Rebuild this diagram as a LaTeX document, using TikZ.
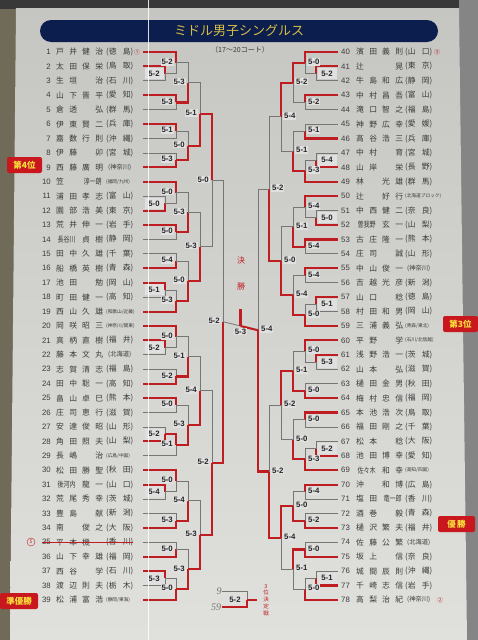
\documentclass[tikz,border=0pt]{standalone}
\usepackage{fontspec}
\usepackage{graphicx}
\setmainfont{Noto Sans CJK JP}
\newfontfamily\scf{Liberation Sans}
\newfontfamily\handf{Liberation Serif}
\usetikzlibrary{calc,positioning}
\definecolor{cRed}{RGB}{190,30,34}
\definecolor{cGrey}{RGB}{118,118,116}
\definecolor{cNavy}{RGB}{12,30,78}
\definecolor{cGold}{RGB}{214,190,70}
\definecolor{cPaper}{RGB}{224,224,220}
\definecolor{cInk}{RGB}{58,58,58}
\definecolor{cMargin}{RGB}{112,106,88}
\definecolor{cBadge}{RGB}{200,24,30}
\definecolor{cBadgeTxt}{RGB}{250,225,60}
\tikzset{
	win/.style ={cRed, line width=2.1pt},
	lose/.style={cGrey, line width=0.8pt},
	sc/.style  ={fill=black!12, inner sep=1pt, text=black!85, font=\scf\bfseries\fontsize{7.8}{9}\selectfont},
	labl/.style={sc, anchor=east, xshift=-2pt, yshift=1pt},
	labr/.style={sc, anchor=west, xshift=2pt, yshift=1pt},
	bxl/.style ={sc, minimum width=19pt, minimum height=11pt, xshift=-11pt},
	bxr/.style ={sc, minimum width=19pt, minimum height=11pt, xshift=11pt},
	numl/.style={anchor=east, inner sep=0pt, text=cInk, font=\scf\fontsize{7.8}{8}\selectfont},
	numr/.style={numl, anchor=west},
	nm/.style  ={anchor=west, inner sep=0pt, text=cInk, font=\fontsize{7.8}{8}\selectfont},
	badge/.style={fill=cBadge, text=cBadgeTxt, rounded corners=2pt, inner sep=1pt, minimum height=16pt, font=\bfseries\fontsize{8.5}{9}\selectfont},
	seed/.style={inner sep=0pt, text=cRed, font=\fontsize{6}{6}\selectfont},
}
% prefecture: two characters, three characters, long
\newcommand\pfa[2]{\makebox[27pt][s]{(#1\hfill #2)}}
\newcommand\pfb[1]{\makebox[27pt][c]{\fontsize{6.3}{7}\selectfont(#1)}}
\newcommand\pfc[1]{\makebox[27pt][l]{\fontsize{4.7}{5}\selectfont(#1)}}
\newcommand\cmp[1]{\hfill\scalebox{0.78}[1]{#1}\hfill}
% players: number, family, given, prefecture
\newcommand\plyL[4]{%
	\pgfmathsetmacro\yy{52+(#1-1)*14.42}
	\node[numl] (n#1) at (51,\yy) {#1};
	\node[nm] (m#1) at (56,\yy) {\makebox[21pt][s]{#2}\hspace{5pt}\makebox[21pt][s]{#3}};
	\node[nm] (f#1) at (106,\yy) {#4};
	\coordinate (p#1) at (143,\yy);}
\newcommand\plyR[4]{%
	\pgfmathsetmacro\yy{52+(#1-40)*14.42}
	\node[numr] (n#1) at (341,\yy) {#1};
	\node[nm] (m#1) at (356,\yy) {\makebox[21pt][s]{#2}\hspace{5pt}\makebox[21pt][s]{#3}};
	\node[nm] (f#1) at (405,\yy) {#4};
	\coordinate (p#1) at (338,\yy);}
% match: name, upper, lower, column x, winner (a/b), score, label style
\newcommand\bout[7]{%
	\coordinate (#1m) at ($(#2)!.5!(#3)$);
	\coordinate (#1) at (#1m -| #4,0);
	\if#5a
		\draw[lose] (#3) -| (#1); \draw[win] (#2) -| (#1);
	\else
		\draw[lose] (#2) -| (#1); \draw[win] (#3) -| (#1);
	\fi
	\node[#7] (#1s) at (#1) {#6};}

\begin{document}
\begin{tikzpicture}[x=1pt, y=-1pt]
	\useasboundingbox (0,0) rectangle (478,640);
	% photo and poster
	\fill[cMargin] (0,0) rectangle (478,640);
	\fill[black!78] (0,0) rectangle (478,9);
	\fill[black!48] (459,0) rectangle (478,640);
	\shade[top color=cPaper!88!black, bottom color=cPaper] (16,8) -- (459,8) -- (467,640) -- (10,640) -- cycle;
	\node[fill=cNavy, rounded corners=11pt, minimum width=398pt, minimum height=22pt, text=cGold, font=\fontsize{13}{14}\selectfont] (ttl) at (239,31) {ミドル男子シングルス};
	\node[text=cInk, font=\fontsize{7}{8}\selectfont] (sub) at (240,50) {（17〜20コート）};

	% left players
	\plyL{1}{戸\hfill 井}{健\hfill 治}{\pfa{徳}{島}}
	\plyL{2}{太\hfill 田}{保\hfill 栄}{\pfa{鳥}{取}}
	\plyL{3}{生\hfill 垣}{\hfill 治}{\pfa{石}{川}}
	\plyL{4}{山\hfill 下}{晋\hfill 平}{\pfa{愛}{知}}
	\plyL{5}{倉\hfill 透}{\hfill 弘}{\pfa{群}{馬}}
	\plyL{6}{伊\hfill 東}{賢\hfill 二}{\pfa{兵}{庫}}
	\plyL{7}{嘉\hfill 数}{行\hfill 則}{\pfa{沖}{縄}}
	\plyL{8}{伊\hfill 藤}{\hfill 卯}{\pfa{宮}{城}}
	\plyL{9}{西\hfill 藤}{廣\hfill 明}{\pfb{神奈川}}
	\plyL{10}{笠\hfill}{\cmp{淳一朗}}{\pfc{福岡/九州}}
	\plyL{11}{浦\hfill 田}{孝\hfill 志}{\pfa{富}{山}}
	\plyL{12}{園\hfill 部}{浩\hfill 美}{\pfa{東}{京}}
	\plyL{13}{荒\hfill 井}{伸\hfill 一}{\pfa{岩}{手}}
	\plyL{14}{\cmp{長谷川}}{貞\hfill 樹}{\pfa{静}{岡}}
	\plyL{15}{田\hfill 中}{久\hfill 雄}{\pfa{千}{葉}}
	\plyL{16}{船\hfill 橋}{英\hfill 樹}{\pfa{青}{森}}
	\plyL{17}{池\hfill 田}{\hfill 勉}{\pfa{岡}{山}}
	\plyL{18}{町\hfill 田}{健\hfill 一}{\pfa{高}{知}}
	\plyL{19}{西\hfill 山}{久\hfill 雄}{\pfc{和歌山/近畿}}
	\plyL{20}{岡\hfill 咲}{昭\hfill 三}{\pfc{神奈川/関東}}
	\plyL{21}{真\hfill 柄}{直\hfill 樹}{\pfa{福}{井}}
	\plyL{22}{藤\hfill 本}{文\hfill 丸}{\pfb{北海道}}
	\plyL{23}{志\hfill 賀}{清\hfill 志}{\pfa{福}{島}}
	\plyL{24}{田\hfill 中}{聡\hfill 一}{\pfa{高}{知}}
	\plyL{25}{畠\hfill 山}{卓\hfill 巳}{\pfa{熊}{本}}
	\plyL{26}{庄\hfill 司}{恵\hfill 行}{\pfa{滋}{賀}}
	\plyL{27}{安\hfill 達}{俊\hfill 昭}{\pfa{山}{形}}
	\plyL{28}{角\hfill 田}{照\hfill 夫}{\pfa{山}{梨}}
	\plyL{29}{長\hfill 嶋}{\hfill 治}{\pfc{広島/中国}}
	\plyL{30}{松\hfill 田}{勝\hfill 聖}{\pfa{秋}{田}}
	\plyL{31}{\cmp{後河内}}{龍\hfill 一}{\pfa{山}{口}}
	\plyL{32}{荒\hfill 尾}{秀\hfill 幸}{\pfa{茨}{城}}
	\plyL{33}{豊\hfill 島}{\hfill 献}{\pfa{新}{潟}}
	\plyL{34}{南\hfill}{俊\hfill 之}{\pfa{大}{阪}}
	\plyL{35}{平\hfill 本}{機\hfill}{\pfa{香}{川}}
	\plyL{36}{山\hfill 下}{幸\hfill 雄}{\pfa{福}{岡}}
	\plyL{37}{西\hfill 谷}{\hfill 学}{\pfa{石}{川}}
	\plyL{38}{渡\hfill 辺}{則\hfill 夫}{\pfa{栃}{木}}
	\plyL{39}{松\hfill 浦}{富\hfill 浩}{\pfc{静岡/東海}}

	% right players
	\plyR{40}{濱\hfill 田}{義\hfill 則}{\pfa{山}{口}}
	\plyR{41}{辻\hfill}{\hfill 晃}{\pfa{東}{京}}
	\plyR{42}{牛\hfill 島}{和\hfill 広}{\pfa{静}{岡}}
	\plyR{43}{中\hfill 村}{昌\hfill 吾}{\pfa{富}{山}}
	\plyR{44}{滝\hfill 口}{智\hfill 之}{\pfa{福}{島}}
	\plyR{45}{神\hfill 野}{広\hfill 幸}{\pfa{愛}{媛}}
	\plyR{46}{高\hfill 谷}{浩\hfill 三}{\pfa{兵}{庫}}
	\plyR{47}{中\hfill 村}{\hfill 育}{\pfa{宮}{城}}
	\plyR{48}{山\hfill 岸}{\hfill 栄}{\pfa{長}{野}}
	\plyR{49}{林\hfill}{光\hfill 雄}{\pfa{群}{馬}}
	\plyR{50}{辻\hfill}{好\hfill 行}{\pfc{北海道ブロック}}
	\plyR{51}{中\hfill 西}{健\hfill 二}{\pfa{奈}{良}}
	\plyR{52}{\cmp{曽我野}}{玄\hfill 一}{\pfa{山}{梨}}
	\plyR{53}{古\hfill 庄}{隆\hfill 一}{\pfa{熊}{本}}
	\plyR{54}{庄\hfill 司}{\hfill 誠}{\pfa{山}{形}}
	\plyR{55}{中\hfill 山}{俊\hfill 一}{\pfb{神奈川}}
	\plyR{56}{吉\hfill 越}{光\hfill 彦}{\pfa{新}{潟}}
	\plyR{57}{山\hfill 口}{\hfill 稔}{\pfa{徳}{島}}
	\plyR{58}{村\hfill 田}{和\hfill 男}{\pfa{岡}{山}}
	\plyR{59}{三\hfill 浦}{義\hfill 弘}{\pfc{青森/東北}}
	\plyR{60}{平\hfill 野}{\hfill 学}{\pfc{石川/北信越}}
	\plyR{61}{浅\hfill 野}{浩\hfill 一}{\pfa{茨}{城}}
	\plyR{62}{山\hfill 本}{\hfill 弘}{\pfa{滋}{賀}}
	\plyR{63}{樋\hfill 田}{金\hfill 男}{\pfa{秋}{田}}
	\plyR{64}{梅\hfill 村}{忠\hfill 信}{\pfa{福}{岡}}
	\plyR{65}{本\hfill 池}{浩\hfill 次}{\pfa{鳥}{取}}
	\plyR{66}{福\hfill 田}{剛\hfill 之}{\pfa{千}{葉}}
	\plyR{67}{松\hfill 本}{\hfill 稔}{\pfa{大}{阪}}
	\plyR{68}{池\hfill 田}{博\hfill 幸}{\pfa{愛}{知}}
	\plyR{69}{\cmp{佐々木}}{和\hfill 幸}{\pfc{高知/四国}}
	\plyR{70}{沖\hfill}{和\hfill 博}{\pfa{広}{島}}
	\plyR{71}{塩\hfill 田}{\cmp{竜一郎}}{\pfa{香}{川}}
	\plyR{72}{酒\hfill 巻}{\hfill 毅}{\pfa{青}{森}}
	\plyR{73}{樋\hfill 沢}{繁\hfill 夫}{\pfa{福}{井}}
	\plyR{74}{佐\hfill 藤}{公\hfill 繁}{\pfb{北海道}}
	\plyR{75}{坂\hfill 上}{\hfill 信}{\pfa{奈}{良}}
	\plyR{76}{城\hfill 間}{辰\hfill 則}{\pfa{沖}{縄}}
	\plyR{77}{千\hfill 崎}{志\hfill 信}{\pfa{岩}{手}}
	\plyR{78}{高\hfill 梨}{治\hfill 紀}{\pfb{神奈川}}

	% seeds, withdrawal
	\node[seed] (s1) at (137,52) {①};
	\node[seed] (s40) at (437,52) {③};
	\node[seed] (s78) at (440,600) {②};
	\node[draw=cRed, circle, inner sep=0.5pt, minimum size=8pt, text=cRed, font=\fontsize{5}{5}\selectfont] (s35) at (31,542) {5};
	\draw[cRed, line width=0.7pt] (n35.west) -- (f35.east);

	% left bracket
	\bout{P2}{p2}{p3}{165}{a}{5-2}{bxl}
	\bout{P11}{p11}{p12}{165}{b}{5-0}{bxl}
	\bout{P17}{p17}{p18}{165}{a}{5-1}{bxl}
	\bout{P21}{p21}{p22}{165}{a}{5-2}{bxl}
	\bout{P27}{p27}{p28}{165}{b}{5-2}{bxl}
	\bout{P31}{p31}{p32}{165}{a}{5-4}{bxl}
	\bout{P37}{p37}{p38}{165}{a}{5-3}{bxl}
	\bout{A1}{p1}{P2}{176}{a}{5-2}{labl}
	\bout{A2}{p4}{p5}{176}{a}{5-3}{labl}
	\bout{A3}{p6}{p7}{176}{a}{5-1}{labl}
	\bout{A4}{p8}{p9}{176}{b}{5-3}{labl}
	\bout{A5}{p10}{P11}{176}{a}{5-0}{labl}
	\bout{A6}{p13}{p14}{176}{a}{5-0}{labl}
	\bout{A7}{p15}{p16}{176}{b}{5-4}{labl}
	\bout{A8}{P17}{p19}{176}{b}{5-3}{labl}
	\bout{A9}{p20}{P21}{176}{a}{5-0}{labl}
	\bout{A10}{p23}{p24}{176}{b}{5-2}{labl}
	\bout{A11}{p25}{p26}{176}{a}{5-0}{labl}
	\bout{A12}{P27}{p29}{176}{a}{5-1}{labl}
	\bout{A13}{p30}{P31}{176}{a}{5-0}{labl}
	\bout{A14}{p33}{p34}{176}{b}{5-3}{labl}
	\bout{A15}{p35}{p36}{176}{b}{5-0}{labl}
	\bout{A16}{P37}{p39}{176}{b}{5-0}{labl}
	\bout{B1}{A1}{A2}{188}{b}{5-3}{labl}
	\bout{B2}{A3}{A4}{188}{b}{5-0}{labl}
	\bout{B3}{A5}{A6}{188}{b}{5-3}{labl}
	\bout{B4}{A7}{A8}{188}{b}{5-0}{labl}
	\bout{B5}{A9}{A10}{188}{b}{5-1}{labl}
	\bout{B6}{A11}{A12}{188}{b}{5-3}{labl}
	\bout{B7}{A13}{A14}{188}{b}{5-4}{labl}
	\bout{B8}{A15}{A16}{188}{b}{5-3}{labl}
	\bout{C1}{B1}{B2}{200}{b}{5-1}{labl}
	\bout{C2}{B3}{B4}{200}{b}{5-3}{labl}
	\bout{C3}{B5}{B6}{200}{b}{5-4}{labl}
	\bout{C4}{B7}{B8}{200}{b}{5-3}{labl}
	\bout{D1}{C1}{C2}{212}{a}{5-0}{labl}
	\bout{D2}{C3}{C4}{212}{b}{5-2}{labl}
	\bout{SL}{D1}{D2}{223}{b}{5-2}{labl}

	% right bracket
	\bout{Q41}{p41}{p42}{316}{a}{5-2}{bxr}
	\bout{Q47}{p47}{p48}{316}{b}{5-4}{bxr}
	\bout{Q51}{p51}{p52}{316}{b}{5-0}{bxr}
	\bout{Q57}{p57}{p58}{316}{a}{5-1}{bxr}
	\bout{Q61}{p61}{p62}{316}{a}{5-3}{bxr}
	\bout{Q67}{p67}{p68}{316}{b}{5-2}{bxr}
	\bout{Q76}{p76}{p77}{316}{b}{5-1}{bxr}
	\bout{E1}{p40}{Q41}{305}{a}{5-0}{labr}
	\bout{E2}{p43}{p44}{305}{a}{5-2}{labr}
	\bout{E3}{p45}{p46}{305}{b}{5-1}{labr}
	\bout{E4}{Q47}{p49}{305}{b}{5-3}{labr}
	\bout{E5}{p50}{Q51}{305}{a}{5-4}{labr}
	\bout{E6}{p53}{p54}{305}{a}{5-4}{labr}
	\bout{E7}{p55}{p56}{305}{a}{5-4}{labr}
	\bout{E8}{Q57}{p59}{305}{b}{5-0}{labr}
	\bout{E9}{p60}{Q61}{305}{a}{5-0}{labr}
	\bout{E10}{p63}{p64}{305}{b}{5-0}{labr}
	\bout{E11}{p65}{p66}{305}{a}{5-0}{labr}
	\bout{E12}{Q67}{p69}{305}{b}{5-3}{labr}
	\bout{E13}{p70}{p71}{305}{a}{5-4}{labr}
	\bout{E14}{p72}{p73}{305}{b}{5-2}{labr}
	\bout{E15}{p74}{p75}{305}{b}{5-0}{labr}
	\bout{E16}{Q76}{p78}{305}{b}{5-0}{labr}
	\bout{F1}{E1}{E2}{293}{a}{5-2}{labr}
	\bout{F2}{E3}{E4}{293}{b}{5-1}{labr}
	\bout{F3}{E5}{E6}{293}{b}{5-1}{labr}
	\bout{F4}{E7}{E8}{293}{b}{5-4}{labr}
	\bout{F5}{E9}{E10}{293}{b}{5-1}{labr}
	\bout{F6}{E11}{E12}{293}{b}{5-0}{labr}
	\bout{F7}{E13}{E14}{293}{b}{5-0}{labr}
	\bout{F8}{E15}{E16}{293}{a}{5-1}{labr}
	\bout{G1}{F1}{F2}{281}{a}{5-4}{labr}
	\bout{G2}{F3}{F4}{281}{b}{5-0}{labr}
	\bout{G3}{F5}{F6}{281}{a}{5-2}{labr}
	\bout{G4}{F7}{F8}{281}{a}{5-4}{labr}
	\bout{H1}{G1}{G2}{269}{b}{5-2}{labr}
	\bout{H2}{G3}{G4}{269}{b}{5-2}{labr}
	\bout{SR}{H1}{H2}{258}{b}{5-4}{labr}

	% final
	\coordinate (fin) at ($(SL)!.5!(SR)$);
	\coordinate (champ) at ([yshift=17pt]fin);
	\draw[lose] (SL) -- (fin);
	\draw[win] (fin) -- (SR);
	\draw[win] (fin) -- (champ);
	\node[sc, below=1.5pt of fin] (fsc) {5-3};
	\node[text=cRed, font=\fontsize{8}{8}\selectfont] (k1) at (241,260) {決};
	\node[text=cRed, font=\fontsize{8}{8}\selectfont] (k2) at (241,286) {勝};

	% third place
	\node[inner sep=0.5pt, text=black!55, font=\handf\itshape\fontsize{10}{10}\selectfont] (h9) at (219,591) {9};
	\node[inner sep=0.5pt, text=black!55, font=\handf\itshape\fontsize{10}{10}\selectfont] (h59) at (216,607) {59};
	\coordinate (T3) at (247,600);
	\coordinate (T3o) at (257,600);
	\draw[lose] (h9.east) -| (T3);
	\draw[win] (h59.east) -| (T3);
	\draw[win] (T3) -- (T3o);
	\node[sc] (T3s) at (235,600) {5-2};
	\node[align=center, text=cRed, font=\fontsize{5.5}{6.8}\selectfont] (t3txt) at (266,600) {3\\位\\決\\定\\戦};

	% badges
	\node[badge, minimum width=35pt] (b4) at (24.5,165) {第4位};
	\node[badge, minimum width=38pt] (b2) at (19,601) {準優勝};
	\node[badge, minimum width=35pt] (b3) at (460.5,324) {第3位};
	\node[badge, minimum width=37pt] (b1) at (456.5,524) {優\,勝};

	% scan streak
	\draw[white, opacity=0.85, line width=0.8pt] (148,0) -- (148,640);
\end{tikzpicture}
\end{document}
